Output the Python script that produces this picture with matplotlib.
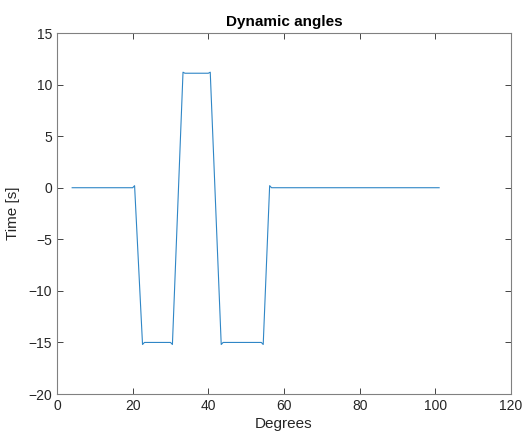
import matplotlib
matplotlib.use("Agg")
import matplotlib.pyplot as plt

# vertices of the traced curve (degrees, time)
deg = [4, 20, 20.5, 22.6, 23.1, 30.0, 30.5, 33.3, 33.8, 40.0, 40.5, 43.4, 43.9, 54.0, 54.5, 56.2, 56.7, 101]
time_s = [0, 0, 0.2, -15.2, -15.0, -15.0, -15.2, 11.2, 11.1, 11.1, 11.2, -15.2, -15.0, -15.0, -15.2, 0.2, 0.0, 0]

xticks = [0, 20, 40, 60, 80, 100, 120]
yticks = [-20, -15, -10, -5, 0, 5, 10, 15]

plt.rcParams["font.family"] = ["Liberation Sans", "DejaVu Sans"]
axcol = "#262626"

fig = plt.figure(figsize=(5.29, 4.40), dpi=100)
ax = fig.add_axes([0.1078, 0.1045, 0.8582, 0.8205])
ax.plot(deg, time_s, color="#2f86c6", lw=0.8)

ax.set_xlim(0, 120)
ax.set_ylim(-20, 15)
ax.set_xticks(xticks)
ax.set_yticks(yticks)
ax.tick_params(direction="in", length=4, width=0.6, colors=axcol, labelsize=10,
               top=True, right=True, labeltop=False, labelright=False)
for s in ax.spines.values():
    s.set_color("#808080")
    s.set_linewidth(0.8)

ax.set_title("Dynamic angles", fontsize=11, fontweight="bold", color="black", pad=5)
ax.set_xlabel("Degrees", fontsize=11, color=axcol, labelpad=3)
ax.set_ylabel("Time [s]", fontsize=11, color=axcol, labelpad=6)

fig.savefig("out.png", dpi=100)
